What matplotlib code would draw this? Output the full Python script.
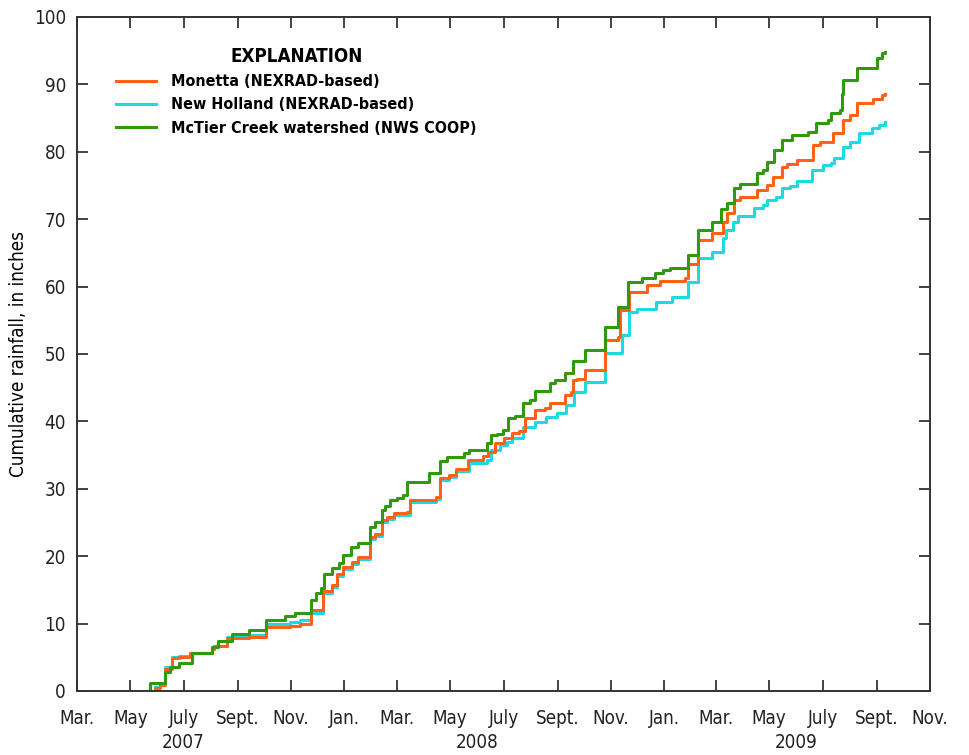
import matplotlib
matplotlib.use("Agg")
from matplotlib import pyplot as plt
import matplotlib.transforms as mtransforms
import pandas as pd

plt.rcParams['font.family'] = ['DejaVu Sans']
plt.rcParams['font.stretch'] = 'condensed'

# Monetta (NEXRAD-based), cumulative inches
monetta_dates = ['2007-05-21', '2007-05-29', '2007-06-04', '2007-06-10', '2007-06-18', '2007-06-26',
                 '2007-07-08', '2007-08-02', '2007-08-05', '2007-08-20', '2007-09-14', '2007-10-03',
                 '2007-10-31', '2007-11-11', '2007-11-24', '2007-12-07', '2007-12-18', '2007-12-24',
                 '2007-12-30', '2008-01-10', '2008-01-16', '2008-01-30', '2008-02-05', '2008-02-13',
                 '2008-02-19', '2008-02-27', '2008-03-12', '2008-03-16', '2008-04-15', '2008-04-19',
                 '2008-04-30', '2008-05-08', '2008-05-21', '2008-06-07', '2008-06-13', '2008-06-21',
                 '2008-07-02', '2008-07-11', '2008-07-19', '2008-07-25', '2008-08-06', '2008-08-17',
                 '2008-08-23', '2008-09-09', '2008-09-16', '2008-09-18', '2008-09-23', '2008-10-02',
                 '2008-10-25', '2008-11-09', '2008-11-11', '2008-11-22', '2008-12-12', '2008-12-27',
                 '2009-01-25', '2009-01-28', '2009-02-08', '2009-02-25', '2009-03-09', '2009-03-14',
                 '2009-03-22', '2009-03-28', '2009-04-17', '2009-04-28', '2009-05-05', '2009-05-16',
                 '2009-05-21', '2009-06-02', '2009-06-20', '2009-06-28', '2009-07-13', '2009-07-24',
                 '2009-08-01', '2009-08-10', '2009-08-28', '2009-09-07', '2009-09-10']
monetta = [0, 0.5, 0.9, 3.3, 4.9, 5.1,
           5.6, 6.2, 6.6, 7.8, 8.0, 9.5,
           9.7, 10.0, 12.0, 14.8, 15.7, 17.4,
           18.4, 19.1, 19.9, 22.8, 23.3, 25.4,
           25.8, 26.4, 26.6, 28.3, 28.8, 31.6,
           32.0, 33.0, 34.3, 34.8, 35.5, 36.8,
           37.5, 38.3, 38.6, 40.5, 41.7, 42.0,
           42.7, 43.9, 44.3, 46.1, 46.3, 47.6,
           52.1, 52.5, 56.5, 59.2, 60.2, 60.8,
           61.3, 63.3, 66.9, 67.9, 69.6, 70.9,
           72.8, 73.3, 74.3, 75.1, 76.3, 77.8,
           78.2, 78.8, 81.0, 81.5, 82.8, 84.7,
           85.5, 87.2, 87.9, 88.4, 88.6]

# New Holland (NEXRAD-based)
holland_dates = ['2007-05-21', '2007-05-29', '2007-06-04', '2007-06-10', '2007-06-18', '2007-06-26',
                 '2007-07-08', '2007-08-02', '2007-08-05', '2007-08-20', '2007-09-14', '2007-10-03',
                 '2007-10-31', '2007-11-11', '2007-11-24', '2007-12-07', '2007-12-18', '2007-12-24',
                 '2007-12-30', '2008-01-10', '2008-01-16', '2008-01-30', '2008-02-05', '2008-02-13',
                 '2008-02-19', '2008-02-27', '2008-03-16', '2008-04-15', '2008-04-19', '2008-04-30',
                 '2008-05-08', '2008-05-23', '2008-06-12', '2008-06-17', '2008-06-27', '2008-07-05',
                 '2008-07-11', '2008-07-23', '2008-08-06', '2008-08-19', '2008-08-31', '2008-09-11',
                 '2008-09-20', '2008-10-02', '2008-10-25', '2008-11-13', '2008-11-22', '2008-12-01',
                 '2008-12-23', '2009-01-10', '2009-01-28', '2009-02-08', '2009-02-24', '2009-03-09',
                 '2009-03-13', '2009-03-20', '2009-03-26', '2009-04-14', '2009-04-24', '2009-04-28',
                 '2009-05-09', '2009-05-16', '2009-05-25', '2009-06-02', '2009-06-19', '2009-07-01',
                 '2009-07-11', '2009-07-14', '2009-07-24', '2009-08-01', '2009-08-12', '2009-08-27',
                 '2009-09-04', '2009-09-10']
holland = [0, 0.6, 1.0, 3.5, 5.0, 5.2,
           5.7, 6.3, 6.7, 8.0, 8.3, 10.0,
           10.3, 10.6, 11.6, 14.5, 15.4, 17.1,
           18.1, 18.8, 19.6, 22.5, 23.0, 25.1,
           25.5, 26.1, 28.0, 28.5, 31.3, 31.7,
           32.6, 33.8, 34.3, 35.8, 36.5, 37.0,
           37.5, 39.2, 39.9, 40.7, 41.2, 42.4,
           44.4, 45.8, 50.1, 52.8, 56.2, 56.6,
           57.7, 58.5, 60.7, 64.2, 65.2, 67.2,
           68.4, 69.6, 70.5, 71.6, 72.1, 72.8,
           73.3, 74.6, 74.9, 75.7, 77.3, 78.0,
           78.3, 79.1, 80.7, 81.5, 82.8, 83.5,
           84.0, 84.4]

# McTier Creek watershed (NWS COOP)
mctier_dates = ['2007-05-22', '2007-05-24', '2007-06-10', '2007-06-15', '2007-06-26', '2007-07-10',
                '2007-08-02', '2007-08-09', '2007-08-25', '2007-09-14', '2007-10-03', '2007-10-25',
                '2007-11-05', '2007-11-24', '2007-11-30', '2007-12-05', '2007-12-09', '2007-12-18',
                '2007-12-26', '2007-12-30', '2008-01-09', '2008-01-16', '2008-01-30', '2008-02-05',
                '2008-02-13', '2008-02-16', '2008-02-22', '2008-03-01', '2008-03-08', '2008-03-12',
                '2008-04-07', '2008-04-19', '2008-04-27', '2008-05-17', '2008-05-23', '2008-06-12',
                '2008-06-17', '2008-06-24', '2008-06-30', '2008-07-06', '2008-07-14', '2008-07-23',
                '2008-07-31', '2008-08-06', '2008-08-23', '2008-08-29', '2008-09-09', '2008-09-18',
                '2008-10-02', '2008-10-25', '2008-11-09', '2008-11-20', '2008-12-07', '2008-12-21',
                '2008-12-30', '2009-01-07', '2009-01-28', '2009-02-08', '2009-02-24', '2009-03-07',
                '2009-03-14', '2009-03-22', '2009-03-28', '2009-04-17', '2009-04-24', '2009-04-28',
                '2009-05-07', '2009-05-16', '2009-05-27', '2009-06-14', '2009-06-24', '2009-07-07',
                '2009-07-11', '2009-07-21', '2009-07-23', '2009-07-24', '2009-08-10', '2009-09-01',
                '2009-09-07', '2009-09-10']
mctier = [0, 1.2, 2.8, 3.5, 4.2, 5.6,
          6.5, 7.4, 8.5, 9.0, 10.5, 11.1,
          11.6, 13.5, 14.5, 15.3, 17.4, 18.2,
          19.0, 20.2, 21.4, 22.0, 24.3, 25.1,
          26.9, 27.5, 28.3, 28.7, 29.1, 31.0,
          32.3, 34.1, 34.7, 35.3, 35.8, 36.8,
          38.0, 38.2, 38.7, 40.5, 40.8, 42.7,
          43.2, 44.5, 45.7, 46.2, 47.2, 49.0,
          50.6, 54.0, 57.0, 60.7, 61.3, 62.0,
          62.4, 62.8, 64.7, 68.4, 69.6, 71.5,
          72.4, 74.6, 75.2, 76.8, 77.3, 78.5,
          80.3, 81.8, 82.5, 83.0, 84.2, 84.7,
          85.7, 86.2, 88.6, 90.6, 92.4, 93.9,
          94.6, 94.8]

series_names = ['Monetta (NEXRAD-based)', 'New Holland (NEXRAD-based)',
                'McTier Creek watershed (NWS COOP)']
series_colors = ['#ff6119', '#1ed9e0', '#2f9a0e']

tick_dates = pd.date_range('2007-03-01', '2009-11-01', freq='2MS')
tick_names = ['Mar.', 'May', 'July', 'Sept.', 'Nov.', 'Jan.']
years = ['2007', '2008', '2009']
year_pos = ['2007-07-01', '2008-06-01', '2009-06-01']

fig = plt.figure(figsize=(9.7, 7.55), dpi=100)
ax = fig.add_axes([0.0794, 0.0848, 0.8794, 0.8927])

# cyan first so orange sits over it, green on top
lines = {}
for dates, vals, name, col in [(holland_dates, holland, series_names[1], series_colors[1]),
                               (monetta_dates, monetta, series_names[0], series_colors[0]),
                               (mctier_dates, mctier, series_names[2], series_colors[2])]:
    ln, = ax.plot(pd.to_datetime(dates), vals, drawstyle='steps-post', color=col, lw=2.2,
                  label=name)
    lines[name] = ln

ax.set_xlim(pd.Timestamp('2007-03-01'), pd.Timestamp('2009-11-01'))
ax.set_ylim(0, 100)
ax.set_xticks(tick_dates)
ax.set_xticklabels([tick_names[i % 6] for i in range(len(tick_dates))])
ax.set_yticks(range(0, 101, 10))
ax.tick_params(direction='in', length=8, width=1.2, top=True, right=True,
               labelsize=13.5, colors='#222222', pad=8)
ax.tick_params(axis='x', pad=13)
for s in ax.spines.values():
    s.set_linewidth(1.4)
    s.set_color('#333333')

ax.set_ylabel('Cumulative rainfall, in inches', fontsize=13.5, labelpad=4)

trans = mtransforms.blended_transform_factory(ax.transData, fig.transFigure)
for y, p in zip(years, year_pos):
    ax.text(pd.Timestamp(p), 1 - 743 / 755, y, transform=trans, ha='center', va='center',
            fontsize=13.5, color='#222222')

leg = ax.legend([lines[n] for n in series_names], series_names, loc='upper left',
                bbox_to_anchor=(0.029, 0.977), frameon=False, title='EXPLANATION',
                prop={'weight': 'bold', 'size': 11.5}, handlelength=2.5, handletextpad=0.95,
                labelspacing=0.52,
                title_fontproperties={'weight': 'bold', 'size': 13.5})

fig.savefig('out.png', dpi=100)
